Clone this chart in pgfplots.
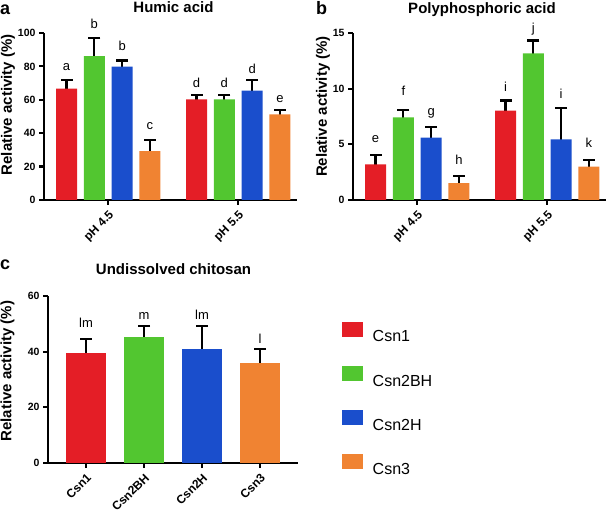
\documentclass[border=0pt]{standalone}
\usepackage{fontspec}
\setmainfont{Liberation Sans}
\usepackage{pgfplots}
\usepackage{pgfplotstable}
\usetikzlibrary{plotmarks}
\pgfplotsset{compat=1.18}
\definecolor{cred}{RGB}{228,30,38}
\definecolor{cgreen}{RGB}{82,198,48}
\definecolor{cblue}{RGB}{26,78,204}
\definecolor{corange}{RGB}{240,131,50}
\pgfplotsset{
  panel/.style={
    scale only axis, axis lines=left,
    axis line style={line width=2.2pt,-},
    tick style={line width=2.2pt, black},
    major tick length=5pt, tick align=outside,
    clip=false, ymin=0,
    /pgf/number format/assume math mode=true,
    yticklabel style={font=\bfseries\fontsize{10.5}{12}\selectfont},
    xticklabel style={font=\bfseries\fontsize{12}{14}\selectfont, rotate=45, anchor=north east},
    ylabel={Relative activity (\%)},
  },
  ylab/.style n args={2}{every axis y label/.style={at={(axis description cs:#1,#2)}, rotate=90, anchor=center, font=\bfseries\fontsize{15}{18}\selectfont}},
  mybar/.style n args={2}{
    ybar, bar width=#2, bar shift=0pt, fill=#1, draw=none,
  },
  myerr/.style={forget plot, ycomb, black, line width=2.2pt,
    mark=-, mark size=6pt, mark options={solid, black, line width=2.2pt}},
  letters/.style={draw=none, mark=none, forget plot, nodes near coords,
    point meta=explicit symbolic,
    nodes near coords style={anchor=base, inner sep=0pt, black, font=\fontsize{13}{15}\selectfont}},
}
\pgfplotstableread{
x y e
1 66.7 5.0
5.676 60.2 2.9
2 86.1 11.1
6.676 60.2 2.5
3 79.9 3.6
7.676 65.5 6.2
4 29.3 6.6
8.676 51.2 2.6
}\tabA
\pgfplotstableread{
x y e
1 3.2 0.83
5.676 8.03 0.9
2 7.43 0.64
6.676 13.18 1.14
3 5.6 0.93
7.676 5.45 2.79
4 1.52 0.63
8.676 3.0 0.6
}\tabB
\pgfplotstableread{
x y e
1 39.4 5.2
2 45.4 3.9
3 41.0 8.3
4 36.0 5.0
}\tabC
\begin{document}
\begin{tikzpicture}
\useasboundingbox (0,0) rectangle (609pt,513pt);
% ---------- panel a ----------
\begin{axis}[panel, at={(44pt,313pt)}, anchor=south west,
  width=253pt, height=167pt, xmin=0.19, xmax=9.29, ymax=100,
  ytick={0,20,40,60,80,100},
  xtick={2.5,7.176}, xticklabels={pH 4.5,pH 5.5},
  ylab={-0.142}{0.57}]
\addplot[myerr] table[x=x, y expr=\thisrow{y}+\thisrow{e}] \tabA;
\addplot[mybar={cred}{0.755}] table[x=x,y=y] {
x y
1 66.7
5.676 60.2
};
\addplot[mybar={cgreen}{0.755}] table[x=x,y=y] {
x y
2 86.1
6.676 60.2
};
\addplot[mybar={cblue}{0.755}] table[x=x,y=y] {
x y
3 79.9
7.676 65.5
};
\addplot[mybar={corange}{0.755}] table[x=x,y=y] {
x y
4 29.3
8.676 51.2
};
\addplot[letters] table[x=x,y=y,meta=l] {
x y l
1 77.4 a
2 102.4 b
3 89.8 b
4 42.5 c
5.676 67.5 d
6.676 67.5 d
7.676 75.9 d
8.676 58.3 e
};
\end{axis}
% ---------- panel b ----------
\begin{axis}[panel, at={(353pt,313pt)}, anchor=south west,
  width=253pt, height=167pt, xmin=0.19, xmax=9.29, ymax=15,
  ytick={0,5,10,15},
  xtick={2.5,7.176}, xticklabels={pH 4.5,pH 5.5},
  ylab={-0.119}{0.56}]
\addplot[myerr] table[x=x, y expr=\thisrow{y}+\thisrow{e}] \tabB;
\addplot[mybar={cred}{0.755}] table[x=x,y=y] {
x y
1 3.2
5.676 8.03
};
\addplot[mybar={cgreen}{0.755}] table[x=x,y=y] {
x y
2 7.43
6.676 13.18
};
\addplot[mybar={cblue}{0.755}] table[x=x,y=y] {
x y
3 5.6
7.676 5.45
};
\addplot[mybar={corange}{0.755}] table[x=x,y=y] {
x y
4 1.52
8.676 3.0
};
\addplot[letters] table[x=x,y=y,meta=l] {
x y l
1 5.15 e
2 9.37 f
3 7.57 g
4 3.23 h
5.676 9.73 i
6.676 15.03 j
7.676 9.13 i
8.676 4.73 k
};
\end{axis}
% ---------- panel c ----------
\begin{axis}[panel, at={(48pt,50pt)}, anchor=south west,
  width=250pt, height=167pt, xmin=0.345, xmax=4.655, ymax=60,
  ytick={0,20,40,60},
  xtick={1,2,3,4}, xticklabels={Csn1,Csn2BH,Csn2H,Csn3},
  ylab={-0.162}{0.55},
  legend style={at={(axis description cs:1.176,0.844)}, anchor=north west,
    draw=none, fill=none, inner sep=0pt, outer sep=0pt,
    row sep=22.8pt, column sep=9.7pt,
    font=\fontsize{16}{19}\selectfont,
    nodes={inner sep=0pt}},
  legend cell align=left,
  legend image code/.code={\fill[#1, draw=none] (0pt,0pt) rectangle (21pt,15pt);}]
\addplot[myerr] table[x=x, y expr=\thisrow{y}+\thisrow{e}] \tabC;
\addplot[mybar={cred}{0.69}] table[x=x,y=y] {
x y
1 39.4
};
\addlegendentry{Csn1}
\addplot[mybar={cgreen}{0.69}] table[x=x,y=y] {
x y
2 45.4
};
\addlegendentry{Csn2BH}
\addplot[mybar={cblue}{0.69}] table[x=x,y=y] {
x y
3 41.0
};
\addlegendentry{Csn2H}
\addplot[mybar={corange}{0.69}] table[x=x,y=y] {
x y
4 36.0
};
\addlegendentry{Csn3}
\addplot[letters] table[x=x,y=y,meta=l] {
x y l
1 48.8 lm
2 51.6 m
3 51.4 lm
4 43.0 l
};
\end{axis}
% ---------- titles and panel letters ----------
\node[anchor=base, font=\bfseries\fontsize{15}{18}\selectfont] at (173.5pt,500.3pt) {Humic acid};
\node[anchor=base, font=\bfseries\fontsize{15}{18}\selectfont] at (482pt,499.7pt) {Polyphosphoric acid};
\node[anchor=base, font=\bfseries\fontsize{15}{18}\selectfont] at (173.5pt,238pt) {Undissolved chitosan};
\node[anchor=base west, inner sep=0pt, font=\bfseries\fontsize{18}{20}\selectfont] at (0pt,498pt) {a};
\node[anchor=base west, inner sep=0pt, font=\bfseries\fontsize{18}{20}\selectfont] at (316pt,498pt) {b};
\node[anchor=base west, inner sep=0pt, font=\bfseries\fontsize{18}{20}\selectfont] at (0pt,243pt) {c};
\end{tikzpicture}
\end{document}
